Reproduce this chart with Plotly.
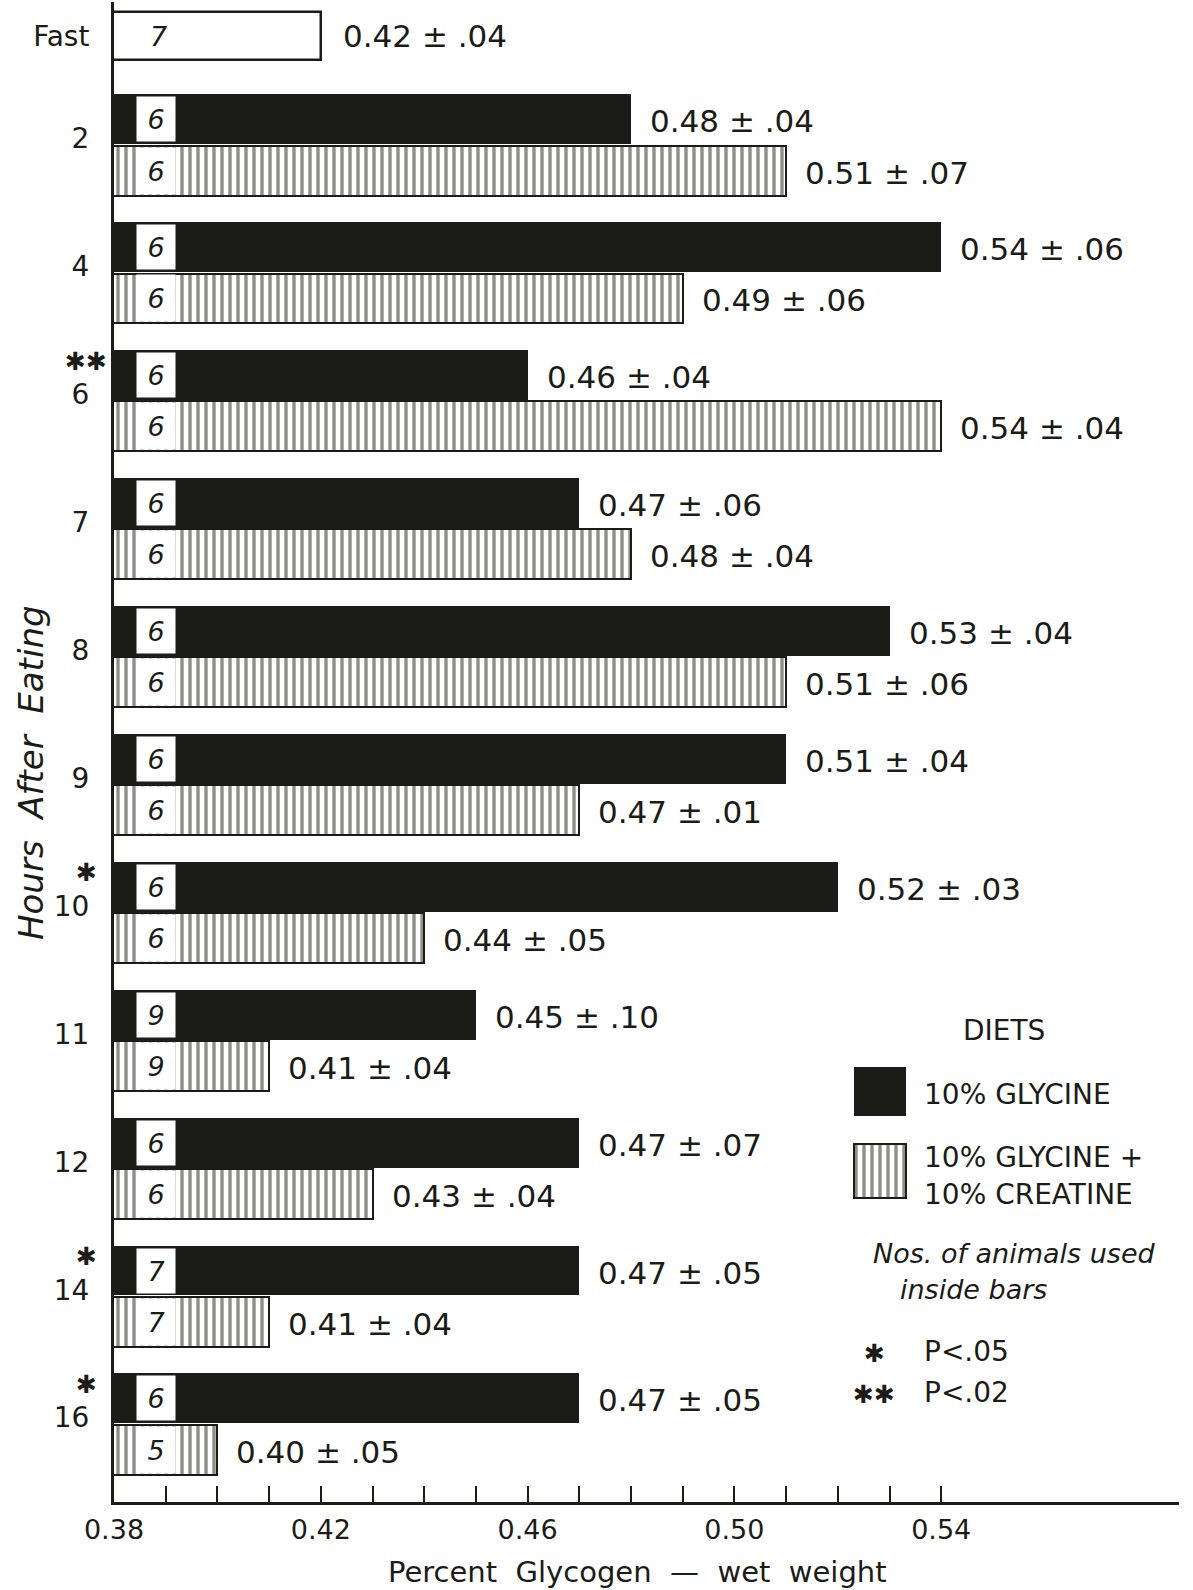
import plotly.graph_objects as go

# ---------------- data ----------------
hours = ["2", "4", "6", "7", "8", "9", "10", "11", "12", "14", "16"]
signif = ["", "", "✱✱", "", "", "", "✱", "", "", "✱", "✱"]
gly = [0.48, 0.54, 0.46, 0.47, 0.53, 0.51, 0.52, 0.45, 0.47, 0.47, 0.47]
gly_sd = [0.04, 0.06, 0.04, 0.06, 0.04, 0.04, 0.03, 0.10, 0.07, 0.05, 0.05]
gly_n = [6, 6, 6, 6, 6, 6, 6, 9, 6, 7, 6]
glc = [0.51, 0.49, 0.54, 0.48, 0.51, 0.47, 0.44, 0.41, 0.43, 0.41, 0.40]
glc_sd = [0.07, 0.06, 0.04, 0.04, 0.06, 0.01, 0.05, 0.04, 0.04, 0.04, 0.05]
glc_n = [6, 6, 6, 6, 6, 6, 6, 9, 6, 7, 5]
fast_label = "Fast"
fast_val = 0.42
fast_sd = 0.04
fast_n = 7
x_tickvals = [0.38, 0.39, 0.40, 0.41, 0.42, 0.43, 0.44, 0.45, 0.46, 0.47,
              0.48, 0.49, 0.50, 0.51, 0.52, 0.53, 0.54]
x_ticktext = ["0.38", "", "", "", "0.42", "", "", "", "0.46", "", "", "",
              "0.50", "", "", "", "0.54"]

# ---------------- layout constants ----------------
W, H = 1193, 1590
ML, MR, MT, MB = 114, 14, 2, 88
PW, PH = W - ML - MR, H - MT - MB
FONT = "DejaVu Sans"
BLACK = "#1b1b17"
BAR_W = 0.39
FAST_POS = 0.15
PX_PER_UNIT = 127.9


def px(x):
    return (x - ML) / PW


def py(y):
    return 1 - (y - MT) / PH


def sdtxt(v, s):
    return f"{v:.2f} ± {('%.2f' % s)[1:]}"


pos = list(range(1, len(hours) + 1))
pos_g = [p - 0.2 for p in pos]
pos_c = [p + 0.2 for p in pos]

hatch = dict(shape="|", fgcolor=BLACK, bgcolor="white", size=8, solidity=0.42)

fig = go.Figure()

# fasting bar
fig.add_trace(go.Bar(
    y=[FAST_POS], x=[fast_val], orientation="h", width=0.375,
    marker=dict(color="white", line=dict(color=BLACK, width=2.5)),
    hoverinfo="skip", showlegend=False))
# glycine
fig.add_trace(go.Bar(
    y=pos_g, x=gly, orientation="h", width=BAR_W,
    marker=dict(color=BLACK, line=dict(width=0)),
    hoverinfo="skip", showlegend=False))
# glycine + creatine
fig.add_trace(go.Bar(
    y=pos_c, x=glc, orientation="h", width=BAR_W,
    marker=dict(color="white", line=dict(color=BLACK, width=2), pattern=hatch),
    hoverinfo="skip", showlegend=False))

# legend swatches on a small secondary axis pair
fig.add_trace(go.Bar(
    y=[0], x=[1], orientation="h", width=0.62, xaxis="x2", yaxis="y2",
    marker=dict(color=BLACK, line=dict(width=0)),
    hoverinfo="skip", showlegend=False))
fig.add_trace(go.Bar(
    y=[1], x=[1], orientation="h", width=0.67, xaxis="x2", yaxis="y2",
    marker=dict(color="white", line=dict(color=BLACK, width=2), pattern=hatch),
    hoverinfo="skip", showlegend=False))

ann = []
valfont = dict(family=FONT, size=31, color=BLACK)
nfont = dict(family=FONT, size=27, color=BLACK, style="italic")

# fast annotations
ann.append(dict(x=fast_val, y=FAST_POS, xref="x", yref="y", text=sdtxt(fast_val, fast_sd),
                xanchor="left", xshift=20, showarrow=False, font=valfont))
ann.append(dict(x=x_tickvals[0], y=FAST_POS, xref="x", yref="y", text=str(fast_n),
                xshift=44, showarrow=False, font=nfont))

for i in range(len(hours)):
    ann.append(dict(x=gly[i], y=pos_g[i], xref="x", yref="y", text=sdtxt(gly[i], gly_sd[i]),
                    xanchor="left", xshift=17, yshift=-2, showarrow=False, font=valfont))
    ann.append(dict(x=glc[i], y=pos_c[i], xref="x", yref="y", text=sdtxt(glc[i], glc_sd[i]),
                    xanchor="left", xshift=17, yshift=-2, showarrow=False, font=valfont))
    ann.append(dict(x=x_tickvals[0], y=pos_g[i], xref="x", yref="y", text=str(gly_n[i]),
                    xshift=42, showarrow=False, font=nfont, bgcolor="white",
                    width=38, height=44, borderpad=0))
    ann.append(dict(x=x_tickvals[0], y=pos_c[i], xref="x", yref="y", text=str(glc_n[i]),
                    xshift=42, showarrow=False, font=nfont, bgcolor="white",
                    width=38, height=46, borderpad=0))
    if signif[i]:
        ann.append(dict(x=px(86), y=pos[i] - 0.31, xref="paper", yref="y", text=signif[i],
                        xanchor="center", yanchor="middle", showarrow=False,
                        font=dict(family=FONT, size=25, color=BLACK)))

# axis titles
ann.append(dict(x=px(637), y=py(1572), xref="paper", yref="paper",
                text="Percent  Glycogen  —  wet  weight", showarrow=False,
                xanchor="center", yanchor="middle",
                font=dict(family=FONT, size=29, color=BLACK)))
ann.append(dict(x=px(31), y=py(773), xref="paper", yref="paper",
                text="Hours  After  Eating", textangle=-90, showarrow=False,
                xanchor="center", yanchor="middle",
                font=dict(family=FONT, size=34, color=BLACK, style="italic")))

# legend text
lf = dict(family=FONT, size=28, color=BLACK)
leg = [
    dict(x=px(1004), y=py(1030), text="DIETS", xanchor="center", font=lf),
    dict(x=px(922), y=py(1094), text="10% GLYCINE", xanchor="left", font=lf),
    dict(x=px(922), y=py(1157), text="10% GLYCINE +", xanchor="left", font=lf),
    dict(x=px(922), y=py(1194), text="10% CREATINE", xanchor="left", font=lf),
    dict(x=px(1014), y=py(1253), text="Nos. of animals used", xanchor="center",
         font=dict(family=FONT, size=27, color=BLACK, style="italic")),
    dict(x=px(973), y=py(1289), text="inside bars", xanchor="center",
         font=dict(family=FONT, size=27, color=BLACK, style="italic")),
    dict(x=px(874), y=py(1353), text="✱", xanchor="center",
         font=dict(family=FONT, size=25, color=BLACK)),
    dict(x=px(922), y=py(1351), text="P<.05", xanchor="left", font=lf),
    dict(x=px(874), y=py(1394), text="✱✱", xanchor="center",
         font=dict(family=FONT, size=25, color=BLACK)),
    dict(x=px(922), y=py(1392), text="P<.02", xanchor="left", font=lf),
]
for a in leg:
    a.update(xref="paper", yref="paper", showarrow=False, yanchor="middle")
ann += leg

ytickvals = [FAST_POS] + [p - 0.05 for p in pos]
yticktext = [fast_label] + hours

y_top = 1 - (145 - MT) / PX_PER_UNIT
y_bot = y_top + PH / PX_PER_UNIT

fig.update_layout(
    width=W, height=H,
    margin=dict(l=ML, r=MR, t=MT, b=MB),
    paper_bgcolor="white", plot_bgcolor="white",
    barmode="overlay", bargap=0,
    annotations=ann,
    xaxis=dict(range=[0.38, 0.38 + PW / 5170], tickvals=x_tickvals, ticktext=x_ticktext,
               ticks="inside", ticklen=16, tickwidth=2, tickcolor=BLACK,
               showline=True, linewidth=3, linecolor=BLACK, showgrid=False,
               zeroline=False, ticklabelstandoff=2,
               tickfont=dict(family=FONT, size=27, color=BLACK)),
    yaxis=dict(range=[y_bot, y_top], tickvals=ytickvals, ticktext=yticktext,
               ticks="", showline=True, linewidth=3, linecolor=BLACK,
               showgrid=False, zeroline=False, ticklabelstandoff=16,
               tickfont=dict(family=FONT, size=28, color=BLACK)),
    xaxis2=dict(domain=[px(852), px(908)], range=[-0.03, 1.03], anchor="y2",
                visible=False, fixedrange=True),
    yaxis2=dict(domain=[py(1200), py(1065)], range=[1.36, -0.33], anchor="x2",
                visible=False, fixedrange=True),
)

fig.write_html("out.html", config={"displayModeBar": False},
               post_script="document.body.style.margin='0';")
